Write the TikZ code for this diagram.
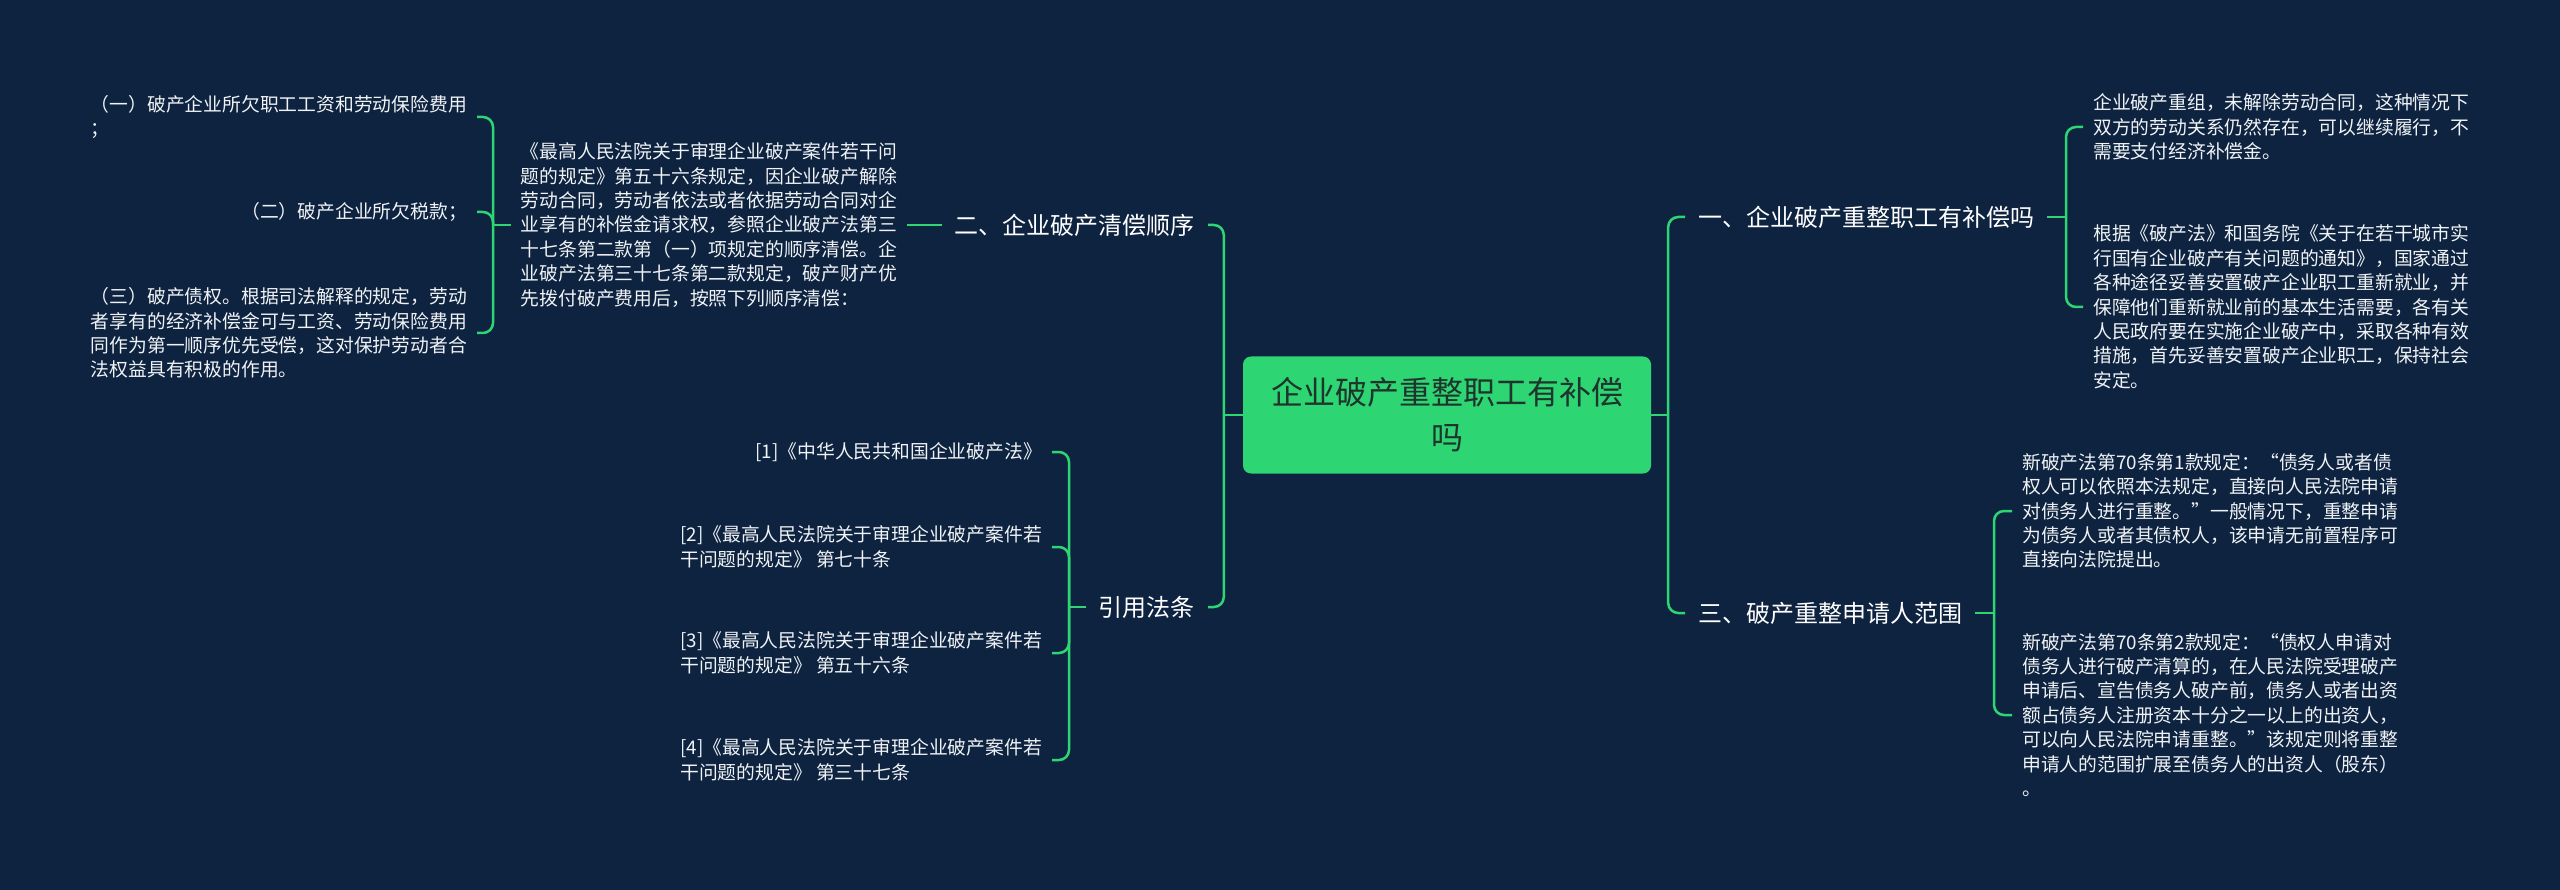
\documentclass[tikz,border=0pt]{standalone}
\usepackage{fontspec}
\setmainfont{Noto Sans CJK SC}
\usepackage{tikz}
\usetikzlibrary{positioning}
\definecolor{bgnavy}{RGB}{14, 35, 64}
\definecolor{mapgreen}{RGB}{46, 213, 115}
\definecolor{roottext}{RGB}{30, 52, 44}
\definecolor{leaftext}{RGB}{240, 243, 246}

\begin{document}
\begin{tikzpicture}[x=1pt, y=-1pt,
  link/.style={draw=mapgreen, line width=2.5pt, rounded corners=10pt},
  rootbox/.style={rectangle, fill=mapgreen, rounded corners=8pt, text=roottext,
      minimum width=408pt, minimum height=117pt, align=center,
      font=\fontsize{32}{45}\selectfont},
  branch/.style={inner xsep=13pt, inner ysep=4pt, text=white,
      font=\fontsize{24}{30}\selectfont},
  leaf/.style={inner xsep=10pt, inner ysep=2pt, text=leaftext, align=left,
      font=\fontsize{18.8}{24.4}\selectfont}]

\useasboundingbox (0,0) rectangle (2560,890);
\fill[bgnavy] (0,0) rectangle (2560,890);

% Central topic
\node[rootbox] (root) at (1447,415) {企业破产重整职工有补偿\\吗};

% Main branches
\node[branch, anchor=west] (one) at (1685,217) {一、企业破产重整职工有补偿吗};
\node[branch, anchor=west] (three) at (1685,613) {三、破产重整申请人范围};
\node[branch, anchor=east] (two) at (1208,225) {二、企业破产清偿顺序};
\node[branch, anchor=east] (cite) at (1208,607) {引用法条};

% Leaves of branch one
\node[leaf, anchor=west] (oneA) at (2083,127)
      {企业破产重组，未解除劳动合同，这种情况下\\
       双方的劳动关系仍然存在，可以继续履行，不\\
       需要支付经济补偿金。};
\node[leaf, anchor=west] (oneB) at (2083,307)
      {根据《破产法》和国务院《关于在若干城市实\\
       行国有企业破产有关问题的通知》，国家通过\\
       各种途径妥善安置破产企业职工重新就业，并\\
       保障他们重新就业前的基本生活需要，各有关\\
       人民政府要在实施企业破产中，采取各种有效\\
       措施，首先妥善安置破产企业职工，保持社会\\
       安定。};

% Leaves of branch three
\node[leaf, anchor=west] (threeA) at (2012,511)
      {新破产法第70条第1款规定：“债务人或者债\\
       权人可以依照本法规定，直接向人民法院申请\\
       对债务人进行重整。”一般情况下，重整申请\\
       为债务人或者其债权人，该申请无前置程序可\\
       直接向法院提出。};
\node[leaf, anchor=west] (threeB) at (2012,715)
      {新破产法第70条第2款规定：“债权人申请对\\
       债务人进行破产清算的，在人民法院受理破产\\
       申请后、宣告债务人破产前，债务人或者出资\\
       额占债务人注册资本十分之一以上的出资人，\\
       可以向人民法院申请重整。”该规定则将重整\\
       申请人的范围扩展至债务人的出资人（股东）\\
       。};

% Branch two and its rule text
\node[leaf, anchor=east] (rule) at (907,225)
      {《最高人民法院关于审理企业破产案件若干问\\
       题的规定》第五十六条规定，因企业破产解除\\
       劳动合同，劳动者依法或者依据劳动合同对企\\
       业享有的补偿金请求权，参照企业破产法第三\\
       十七条第二款第（一）项规定的顺序清偿。企\\
       业破产法第三十七条第二款规定，破产财产优\\
       先拨付破产费用后，按照下列顺序清偿：};
\node[leaf, anchor=east] (ruleA) at (477,117)
      {（一）破产企业所欠职工工资和劳动保险费用\\
       ；};
\node[leaf, anchor=east] (ruleB) at (477,212) {（二）破产企业所欠税款；};
\node[leaf, anchor=east] (ruleC) at (477,333)
      {（三）破产债权。根据司法解释的规定，劳动\\
       者享有的经济补偿金可与工资、劳动保险费用\\
       同作为第一顺序优先受偿，这对保护劳动者合\\
       法权益具有积极的作用。};

% Cited laws
\node[leaf, anchor=east] (lawA) at (1052,452) {[1]《中华人民共和国企业破产法》};
\node[leaf, anchor=east] (lawB) at (1052,547)
      {[2]《最高人民法院关于审理企业破产案件若\\干问题的规定》 第七十条};
\node[leaf, anchor=east] (lawC) at (1052,653)
      {[3]《最高人民法院关于审理企业破产案件若\\干问题的规定》 第五十六条};
\node[leaf, anchor=east] (lawD) at (1052,760)
      {[4]《最高人民法院关于审理企业破产案件若\\干问题的规定》 第三十七条};

% Bus points
\coordinate[right=17pt of root.east] (rbus);
\coordinate[left=19pt of root.west] (lbus);
\coordinate (onebus) at (2066,217);
\coordinate (threebus) at (1994,613);
\coordinate (rulebus) at (493,225);
\coordinate (citebus) at (1069,607);

% Connectors
\draw[link] (root.east) -- (rbus);
\draw[link] (rbus) |- (one.west);
\draw[link] (rbus) |- (three.west);
\draw[link] (root.west) -- (lbus);
\draw[link] (lbus) |- (two.east);
\draw[link] (lbus) |- (cite.east);

\draw[link] (one.east) -- (onebus);
\foreach \leafname in {oneA, oneB}
  \draw[link] (onebus) |- (\leafname.west);
\draw[link] (three.east) -- (threebus);
\foreach \leafname in {threeA, threeB}
  \draw[link] (threebus) |- (\leafname.west);

\draw[link] (two.west) -- (rule.east);
\draw[link] (rule.west) -- (rulebus);
\foreach \leafname in {ruleA, ruleB, ruleC}
  \draw[link] (rulebus) |- (\leafname.east);
\draw[link] (cite.west) -- (citebus);
\foreach \leafname in {lawA, lawB, lawC, lawD}
  \draw[link] (citebus) |- (\leafname.east);

\end{tikzpicture}
\end{document}
